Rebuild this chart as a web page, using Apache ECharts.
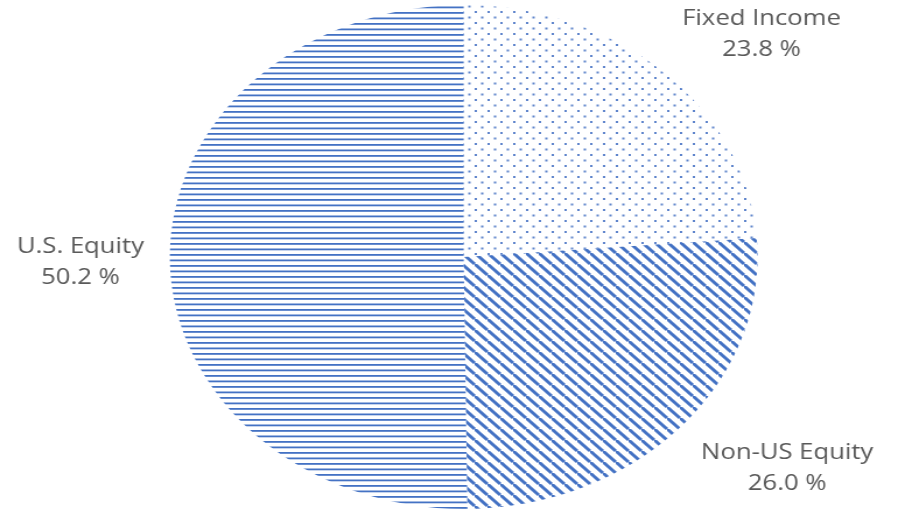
<!DOCTYPE html>
<html>
<head>
<meta charset="utf-8">
<script src="https://cdn.jsdelivr.net/npm/echarts@6/dist/echarts.min.js"></script>
<style>
  html, body { margin: 0; padding: 0; background: #fff; overflow: hidden; }
  /* the reference is stretched sideways, so the chart is drawn narrow and scaled */
  #chart { width: 770px; height: 511px; transform: scaleX(1.1662); transform-origin: 0 0; }
</style>
</head>
<body>
<div id="chart"></div>
<script>
const categories = ['Fixed Income', 'Non-US Equity', 'U.S. Equity'];
const shares = [23.8, 26.0, 50.2];

const blue = '#4472c4';

// Pattern tiles
function dotsPattern() {
    const c = document.createElement('canvas');
    c.width = 11; c.height = 11;
    const ctx = c.getContext('2d');
    ctx.fillStyle = '#5f85cc';
    ctx.fillRect(0, 0, 2, 2);
    ctx.fillRect(5.5, 5.5, 2, 2);
    return c;
}

function diagPattern() {
    const s = 11;
    const c = document.createElement('canvas');
    c.width = s; c.height = s;
    const ctx = c.getContext('2d');
    ctx.strokeStyle = blue;
    ctx.lineWidth = 3;
    [[-s, 0], [0, 0], [0, -s]].forEach(o => {
        ctx.beginPath();
        ctx.moveTo(o[0], o[1]);
        ctx.lineTo(o[0] + s, o[1] + s);
        ctx.stroke();
    });
    return c;
}

function hlinePattern() {
    const c = document.createElement('canvas');
    c.width = 10; c.height = 11;
    const ctx = c.getContext('2d');
    ctx.fillStyle = blue;
    ctx.fillRect(0, 1, 10, 1.8);
    ctx.fillRect(0, 6.5, 10, 1.8);
    return c;
}

const fills = [dotsPattern(), diagPattern(), hlinePattern()];
// label anchor points (unscaled coordinates)
const labelPos = [[653, 34], [675, 468], [69, 262]];

const chart = echarts.init(document.getElementById('chart'));
chart.setOption({
    backgroundColor: '#fff',
    animation: false,
    series: [{
        type: 'pie',
        center: [397.6, 257],
        radius: 252,
        startAngle: 90,
        clockwise: true,
        itemStyle: { borderWidth: 0 },
        label: {
            show: true,
            position: 'outside',
            formatter: p => p.name + '\n' + p.value.toFixed(1) + ' %',
            color: '#595959',
            fontFamily: 'Open Sans',
            fontSize: 22,
            lineHeight: 31,
            align: 'center',
            overflow: 'none',
            width: 300
        },
        labelLine: { show: false },
        labelLayout: p => ({ x: labelPos[p.dataIndex][0], y: labelPos[p.dataIndex][1], align: 'center', verticalAlign: 'middle' }),
        emphasis: { disabled: true },
        data: categories.map((name, i) => ({
            name: name,
            value: shares[i],
            itemStyle: { color: { image: fills[i], repeat: 'repeat' } }
        }))
    }]
});
</script>
</body>
</html>
